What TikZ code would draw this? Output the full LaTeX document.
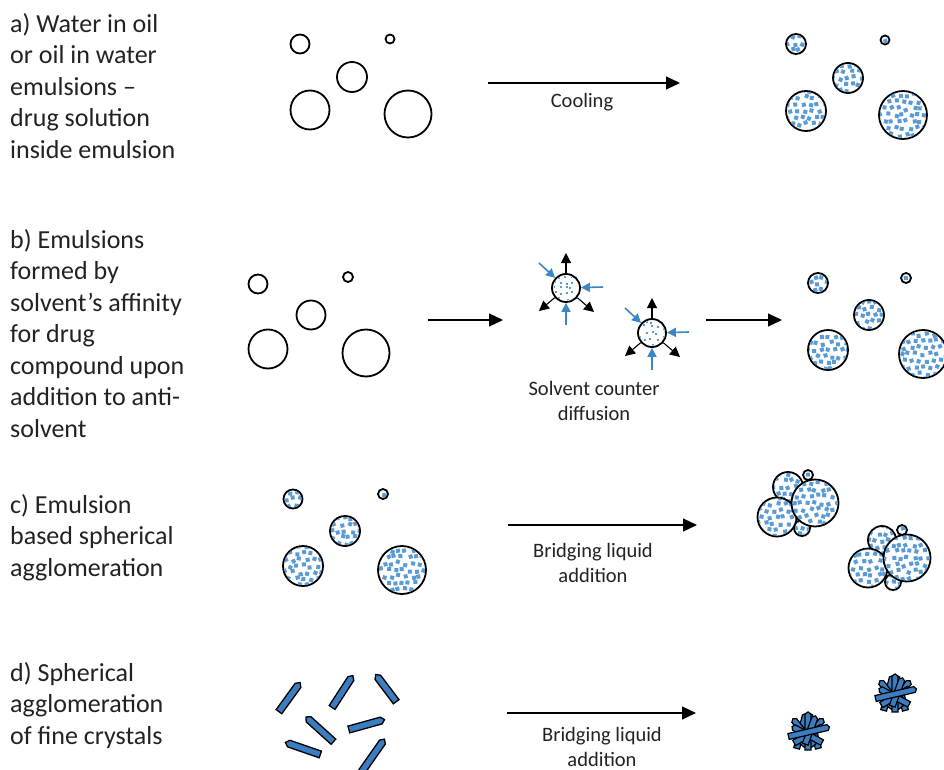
\documentclass[tikz,border=0pt]{standalone}
\usepackage{fontspec}
\setmainfont{Carlito}
\usetikzlibrary{arrows.meta,calc,shapes.symbols}
\definecolor{ink}{HTML}{222222}
\definecolor{dropblue}{HTML}{5B9BD5}
\definecolor{rodblue}{HTML}{3C7CC0}
\definecolor{flowblue}{HTML}{3A87C8}

\tikzset{
  drop/.style={circle, draw=black, line width=1.8pt, inner sep=0pt, fill=white},
  flow/.style={draw=black, line width=1.1pt, -{Triangle[length=14pt,width=13pt]}},
  outflow/.style={draw=black, line width=1.1pt, -{Triangle[length=10pt,width=10pt]}},
  inflow/.style={draw=flowblue, line width=1.6pt, -{Triangle[length=9pt,width=9pt]}},
  lab/.style={font=\fontsize{26}{31.5}\selectfont, text=ink, align=left, inner sep=0pt, anchor=north west},
  note/.style={font=\fontsize{20.5}{24.5}\selectfont, text=ink, align=center, inner sep=0pt},
  rod/.style={signal, signal to=east, draw=black, line width=1.3pt, fill=rodblue,
    inner sep=0pt, minimum height=7pt},
  brod/.style={rod, minimum height=6pt, line width=1.2pt, signal pointer angle=110}
}

% open droplet
\newcommand\plaindrop[4]{\node[drop, minimum size={#4*2pt}] (#1) at (#2,#3) {};}
% droplet holding precipitated drug (blue squares)
\newcommand\dotdrop[4]{%
  \node[drop, minimum size={#4*2pt}] (#1) at (#2,#3) {};
  \begin{scope}
    \clip (#2,#3) circle[radius={#4pt-0.9pt}];
    \foreach \i in {-4,...,4}{\foreach \j in {-4,...,4}{%
      \pgfmathsetmacro\dx{#2+\i*7.2+mod(\j+8,2)*3.6+rand*1.8}%
      \pgfmathsetmacro\dy{#3+\j*6.6+rand*1.8}%
      \pgfmathsetmacro\rr{rand*25}%
      \fill[dropblue, rotate around={\rr:(\dx,\dy)}] (\dx-2,\dy-2) rectangle (\dx+2,\dy+2);
    }}
  \end{scope}}
% droplet with finely dispersed solute
\newcommand\finedrop[4]{%
  \node[drop, minimum size={#4*2pt}] (#1) at (#2,#3) {};
  \begin{scope}
    \clip (#2,#3) circle[radius={#4pt-1.5pt}];
    \foreach \i in {-3,...,3}{\foreach \j in {-3,...,3}{%
      \pgfmathsetmacro\dx{#2+\i*6+rand*2}%
      \pgfmathsetmacro\dy{#3+\j*6+rand*2}%
      \fill[dropblue] (\dx-1,\dy-1) rectangle (\dx+1,\dy+1);
    }}
  \end{scope}}
% solvent exchange arrows around a droplet
\newcommand\exchange[1]{%
  \coordinate (#1-o1) at ($(#1)+(0,-35)$);
  \coordinate (#1-o2) at ($(#1)+(-27,23)$);
  \coordinate (#1-o3) at ($(#1)+(28,24)$);
  \coordinate (#1-i1) at ($(#1)+(-27,-25)$);
  \coordinate (#1-i2) at ($(#1)+(37,-1)$);
  \coordinate (#1-i3) at ($(#1)+(0,37)$);
  \draw[outflow] (#1) -- (#1-o1);
  \draw[outflow] (#1) -- (#1-o2);
  \draw[outflow] (#1) -- (#1-o3);
  \draw[inflow] (#1-i1) -- (#1);
  \draw[inflow] (#1-i2) -- (#1);
  \draw[inflow] (#1-i3) -- (#1);}
% agglomerate of fine crystals
\newcommand\bundle[3]{%
  \coordinate (#1) at (#2,#3);
  \foreach \a/\l/\ox/\oy [count=\k] in {75/36/-7/0, 105/36/6/0, 52/34/4/1, 128/34/-4/1,
      90/38/0/0, 30/34/0/3, 152/34/0/3, 70/30/2/-1, 13/42/0/0}
    \node[brod, minimum width=\l pt, rotate=\a] (#1-\k) at ($(#1)+(\ox,\oy)$) {};}

\begin{document}
\begin{tikzpicture}[x=1pt, y=-1pt]
\useasboundingbox (0,0) rectangle (944,770);
\clip (0,0) rectangle (944,770);
\pgfmathsetseed{4242}

% ---------- row a: emulsion cooling ----------
\node[lab] (ta) at (10,13) {a) Water in oil\\or oil in water\\emulsions –\\drug solution\\inside emulsion};
\plaindrop{a1}{300}{44}{9.5}
\plaindrop{a2}{390}{39}{4.5}
\plaindrop{a3}{352}{77}{15}
\plaindrop{a4}{310}{110}{19.5}
\plaindrop{a5}{408}{114}{23.5}
\coordinate (aS) at (488,83);
\coordinate (aE) at (680,83);
\draw[flow] (aS) -- (aE);
\node[note] (cool) at (582,102) {Cooling};
\dotdrop{A1}{796}{44}{10}
\dotdrop{A2}{885}{40}{4.5}
\dotdrop{A3}{848}{78}{15}
\dotdrop{A4}{806}{111}{20}
\dotdrop{A5}{903}{115}{24}

% ---------- row b: solvent affinity ----------
\node[lab] (tb) at (10,229) {b) Emulsions\\formed by\\solvent’s affinity\\for drug\\compound upon\\addition to anti-\\solvent};
\plaindrop{b1}{258}{284}{9.5}
\plaindrop{b2}{348}{277}{5}
\plaindrop{b3}{311}{315}{14.5}
\plaindrop{b4}{268}{349}{19.5}
\plaindrop{b5}{366}{353}{23.5}
\coordinate (bS) at (428,320);
\coordinate (bE) at (503,320);
\draw[flow] (bS) -- (bE);
\finedrop{m1}{566}{288}{14}
\finedrop{m2}{652}{333}{14}
\exchange{m1}
\exchange{m2}
\node[note] (diff) at (594,401) {Solvent counter\\diffusion};
\coordinate (bS2) at (706,320);
\coordinate (bE2) at (782,320);
\draw[flow] (bS2) -- (bE2);
\dotdrop{B1}{818}{283}{10}
\dotdrop{B2}{906}{278}{5}
\dotdrop{B3}{869}{315}{15}
\dotdrop{B4}{828}{350}{20}
\dotdrop{B5}{923}{354}{24}

% ---------- row c: emulsion agglomeration ----------
\node[lab] (tc) at (10,494) {c) Emulsion\\based spherical\\agglomeration};
\dotdrop{c1}{293}{499}{9.5}
\dotdrop{c2}{383}{494}{5}
\dotdrop{c3}{345}{531}{15}
\dotdrop{c4}{303}{566}{20}
\dotdrop{c5}{402}{570}{24}
\coordinate (cS) at (508,525);
\coordinate (cE) at (697,525);
\draw[flow] (cS) -- (cE);
\node[note] (bridge1) at (593,563) {Bridging liquid\\addition};
\dotdrop{p1}{808}{475}{5}
\dotdrop{p2}{788}{487}{15}
\dotdrop{p3}{802}{528}{8}
\dotdrop{p4}{777}{517}{19.5}
\dotdrop{p5}{815}{503}{23.5}
\dotdrop{q1}{902}{530}{5}
\dotdrop{q2}{882}{540}{14}
\dotdrop{q3}{893}{582}{8}
\dotdrop{q4}{868}{568}{19.5}
\dotdrop{q5}{907}{558}{23.5}

% ---------- row d: agglomeration of crystals ----------
\node[lab] (td) at (10,662) {d) Spherical\\agglomeration\\of fine crystals};
\node[rod, minimum width=36pt, rotate=54] (r1) at (288.5,698.5) {};
\node[rod, minimum width=38pt, rotate=57] (r2) at (341.5,693) {};
\node[rod, minimum width=34pt, rotate=127] (r3) at (387,689.5) {};
\node[rod, minimum width=37pt, rotate=138] (r4) at (321,730.5) {};
\node[rod, minimum width=37pt, rotate=15.5] (r5) at (365,725) {};
\node[rod, minimum width=37pt, rotate=161] (r6) at (304.5,749) {};
\node[rod, minimum width=40pt, rotate=55] (r7) at (372,757) {};
\coordinate (dS) at (507,713);
\coordinate (dE) at (696,713);
\draw[flow] (dS) -- (dE);
\node[note] (bridge2) at (602,747) {Bridging liquid\\addition};
\bundle{g1}{808}{732}
\bundle{g2}{895}{694}
\end{tikzpicture}
\end{document}
